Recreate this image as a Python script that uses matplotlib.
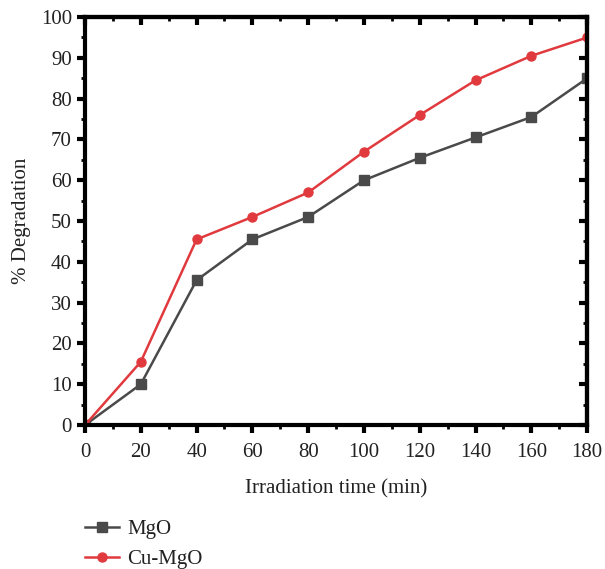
import matplotlib
matplotlib.use("Agg")
import matplotlib.pyplot as plt
from matplotlib.ticker import MultipleLocator

plt.rcParams['font.family'] = ['Liberation Serif', 'DejaVu Serif']

time_min = [0, 20, 40, 60, 80, 100, 120, 140, 160, 180]
mgo = [0, 10, 35.5, 45.5, 51, 60, 65.5, 70.5, 75.5, 85]
cu_mgo = [0, 15.5, 45.5, 51, 57, 67, 76, 84.5, 90.5, 95]

fig = plt.figure(figsize=(6.05, 5.69), dpi=100)
ax = fig.add_axes([0.1405, 0.253, 0.83, 0.717])

ax.plot(time_min, mgo, color='#4a4a4a', marker='s', markersize=6.5, linewidth=1.8, label='MgO')
ax.plot(time_min, cu_mgo, color='#e03a3e', marker='o', markersize=6.5, linewidth=1.8, label='Cu-MgO')

ax.set_xlim(0, 180)
ax.set_ylim(0, 100)
ax.xaxis.set_major_locator(MultipleLocator(20))
ax.xaxis.set_minor_locator(MultipleLocator(10))
ax.yaxis.set_major_locator(MultipleLocator(10))
ax.yaxis.set_minor_locator(MultipleLocator(5))

for sp in ax.spines.values():
    sp.set_linewidth(3)
ax.tick_params(which='major', direction='out', length=6, width=3, labelsize=15, colors='black', labelcolor='#222222')
ax.tick_params(axis='x', which='major', pad=7)
ax.tick_params(which='minor', direction='out', length=3, width=2)

# inward ticks on top and right
top = ax.secondary_xaxis('top')
top.xaxis.set_major_locator(MultipleLocator(20))
top.xaxis.set_minor_locator(MultipleLocator(10))
top.tick_params(which='major', direction='in', length=6, width=3, labeltop=False)
top.tick_params(which='minor', direction='in', length=3, width=2)
top.spines['top'].set_linewidth(3)
right = ax.secondary_yaxis('right')
right.yaxis.set_major_locator(MultipleLocator(10))
right.yaxis.set_minor_locator(MultipleLocator(5))
right.tick_params(which='major', direction='in', length=6, width=3, labelright=False)
right.tick_params(which='minor', direction='in', length=3, width=2)
right.spines['right'].set_linewidth(3)

ax.set_xlabel('Irradiation time (min)', fontsize=15, color='#222222', labelpad=12)
ax.set_ylabel('% Degradation', fontsize=15, color='#222222', labelpad=7)

fig.legend(loc='upper left', bbox_to_anchor=(0.11, 0.12), frameon=False,
           fontsize=15, handlelength=1.6, labelspacing=0.5, handletextpad=0.4,
           labelcolor='#222222')

fig.savefig('out.png', dpi=100)
